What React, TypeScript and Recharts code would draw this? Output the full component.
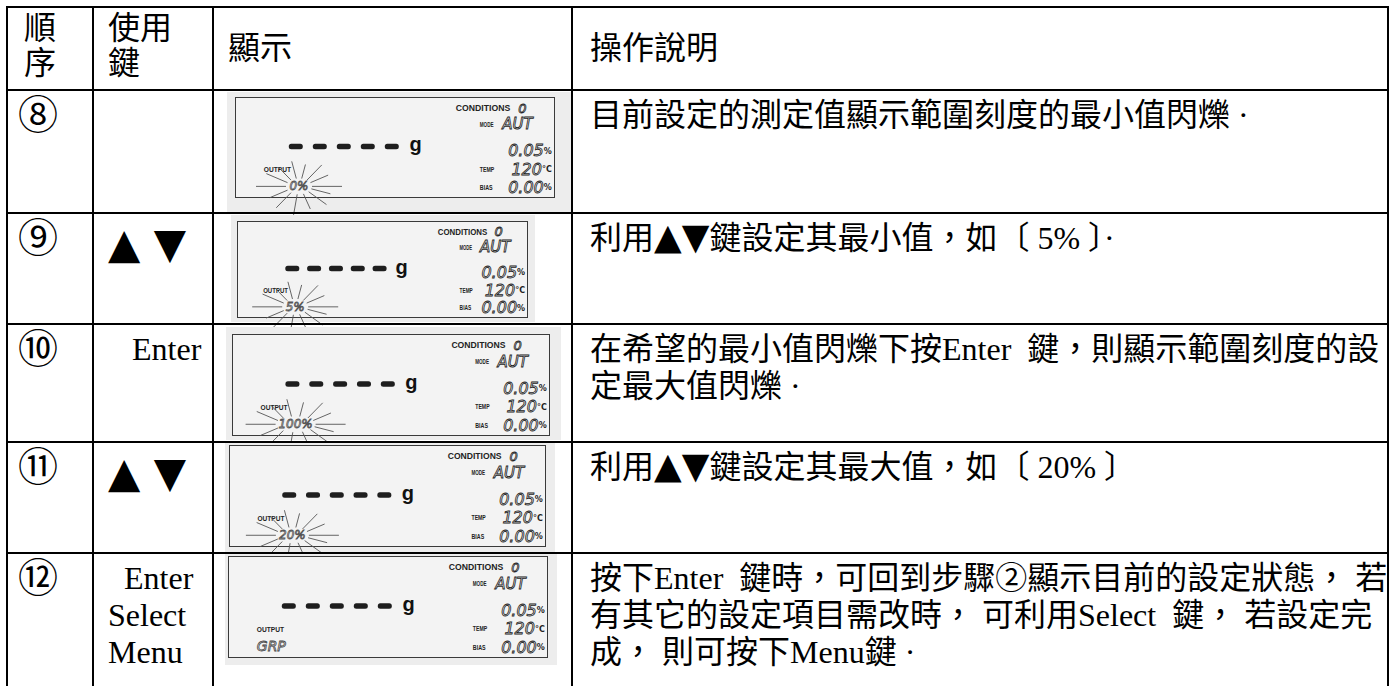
import React from "react"
import { ScatterChart, Scatter, XAxis, YAxis, Customized } from "recharts"

// table text
const headerCells = [["順", "序"], ["使用", "鍵"], ["顯示"], ["操作說明"]]
const stepNumbers = ["⑧", "⑨", "⑩", "⑪", "⑫"]
const keyLabels = [[""], ["▲ ▼"], ["   Enter"], ["▲ ▼"], ["  Enter", "Select", "Menu"]]
const descriptions = [
    ["目前設定的測定值顯示範圍刻度的最小值閃爍 ·"],
    ["利用▲▼鍵設定其最小值，如〔 5% 〕·"],
    ["在希望的最小值閃爍下按Enter  鍵，則顯示範圍刻度的設", "定最大值閃爍 ·"],
    ["利用▲▼鍵設定其最大值，如〔 20% 〕"],
    [
        "按下Enter  鍵時，可回到步驟②顯示目前的設定狀態， 若",
        "有其它的設定項目需改時， 可利用Select  鍵， 若設定完",
        "成， 則可按下Menu鍵 ·",
    ],
]

// LCD readings shown in each row
const mainDigits = ["-", "-", "-", "-", "-"]
const outputValues = ["0%", "5%", "100%", "20%", "GRP"]
const outputBlinking = [true, true, true, true, false]
const conditionNo = "0"
const modeValue = "AUT"
const modeRate = "0.05"
const tempValue = "120"
const biasValue = "0.00"

// layout
const colX = [7, 93, 213, 572, 1388]
const rowY = [7, 90, 213, 324, 442, 553, 760]
const keyX = 108
const lcdFrames = [
    { x: 227, y: 92, w: 344, h: 121, bx: 8, by: 5, bw: 320, bh: 101 },
    { x: 231, y: 215, w: 304, h: 107, bx: 6, by: 6, bw: 291, bh: 97 },
    { x: 226, y: 327, w: 335, h: 113, bx: 6, by: 7, bw: 318, bh: 102 },
    { x: 225, y: 443, w: 330, h: 109, bx: 4, by: 2, bw: 317, bh: 102 },
    { x: 225, y: 553, w: 332, h: 112, bx: 3, by: 3, bw: 320, bh: 102 },
]
// blink rays: [angle deg, length]
const rays = [
    [0, 30], [28, 20], [52, 24], [78, 18], [102, 22], [128, 20], [152, 24],
    [180, 30], [208, 20], [232, 24], [262, 26], [290, 20], [318, 24], [342, 20],
]

const textFont = "'Liberation Serif', 'Noto Sans CJK TC', serif"
const triFont = "'DejaVu Sans', sans-serif"
const segStyle = {
    fontFamily: "'DejaVu Sans', sans-serif",
    fontStyle: "italic" as const,
    fill: "none",
    stroke: "#222",
    strokeWidth: 0.8,
}
const labelStyle = {
    fontFamily: "'Liberation Sans', Arial, sans-serif",
    fontWeight: 700,
    fill: "#222",
}

// the ▲▼ marks are drawn larger, as in the printed sheet
function withTriangles(line: string, size: number) {
    const parts = line.split(/([▲▼])/)
    return parts.map((p, i) =>
        p === "▲" || p === "▼" ? (
            <span key={i} style={{ fontFamily: triFont, fontSize: size, lineHeight: 0 }}>
                {p}
            </span>
        ) : (
            <React.Fragment key={i}>{p}</React.Fragment>
        )
    )
}

function Lines({ x, y, lines, lh = 37, size = 32 }: { x: number; y: number; lines: string[]; lh?: number; size?: number }) {
    return (
        <div
            style={{
                position: "absolute",
                left: x,
                top: y,
                fontSize: size,
                lineHeight: lh + "px",
                whiteSpace: "pre",
            }}
        >
            {lines.map((l, i) => (
                <div key={i}>{l ? withTriangles(l, 36) : "\u00a0"}</div>
            ))}
        </div>
    )
}

function LcdOverlay({ row }: { row: number }) {
    const f = lcdFrames[row]
    const px = (v: number) => f.bx + v * f.bw
    const py = (v: number) => f.by + v * f.bh
    const out = outputValues[row]
    const blink = outputBlinking[row]
    const cx = px(0.2)
    const cy = py(0.885)
    const rx = 6 + out.length * 3.5
    const ry = 8
    return (
        <g>
            <text x={px(0.69)} y={py(0.11)} dominantBaseline="central" fontSize={9} textLength={f.bw * 0.17} lengthAdjust="spacingAndGlyphs" {...labelStyle}>
                CONDITIONS
            </text>
            <text x={px(0.885)} y={py(0.11)} dominantBaseline="central" fontSize={13} {...segStyle}>
                {conditionNo}
            </text>
            <text x={px(0.765)} y={py(0.27)} dominantBaseline="central" fontSize={7} textLength={f.bw * 0.043} lengthAdjust="spacingAndGlyphs" {...labelStyle}>
                MODE
            </text>
            <text x={px(0.835)} y={py(0.27)} dominantBaseline="central" fontSize={15} {...segStyle}>
                {modeValue}
            </text>
            <text x={px(0.545)} y={py(0.47)} dominantBaseline="central" fontSize={20} {...labelStyle} fill="#111">
                g
            </text>
            <text x={px(0.99)} y={py(0.53)} dominantBaseline="central" textAnchor="end" fontSize={16} {...segStyle}>
                {modeRate}
                <tspan fontSize={8} fontStyle="normal" fill="#222" stroke="none" fontWeight={700}>%</tspan>
            </text>
            <text x={px(0.765)} y={py(0.715)} dominantBaseline="central" fontSize={7} textLength={f.bw * 0.045} lengthAdjust="spacingAndGlyphs" {...labelStyle}>
                TEMP
            </text>
            <text x={px(0.99)} y={py(0.715)} dominantBaseline="central" textAnchor="end" fontSize={16} {...segStyle}>
                {tempValue}
                <tspan fontSize={8} fontStyle="normal" fill="#222" stroke="none" fontWeight={700}>°C</tspan>
            </text>
            <text x={px(0.765)} y={py(0.895)} dominantBaseline="central" fontSize={7} textLength={f.bw * 0.04} lengthAdjust="spacingAndGlyphs" {...labelStyle}>
                BIAS
            </text>
            <text x={px(0.99)} y={py(0.895)} dominantBaseline="central" textAnchor="end" fontSize={16} {...segStyle}>
                {biasValue}
                <tspan fontSize={8} fontStyle="normal" fill="#222" stroke="none" fontWeight={700}>%</tspan>
            </text>
            <text x={px(0.09)} y={py(0.72)} dominantBaseline="central" fontSize={7} textLength={f.bw * 0.085} lengthAdjust="spacingAndGlyphs" {...labelStyle}>
                OUTPUT
            </text>
            {blink ? (
                <g>
                    {rays.map(([a, r], i) => {
                        const t = (a * Math.PI) / 180
                        const c = Math.cos(t)
                        const s = Math.sin(t)
                        return (
                            <line
                                key={i}
                                x1={cx + c * rx}
                                y1={cy - s * ry}
                                x2={cx + c * (rx + r)}
                                y2={cy - s * (ry + r * 0.8)}
                                stroke="#555"
                                strokeWidth={0.9}
                            />
                        )
                    })}
                    <text x={cx} y={cy} dominantBaseline="central" textAnchor="middle" fontSize={12} {...segStyle} stroke="#555">
                        {out}
                    </text>
                </g>
            ) : (
                <text x={px(0.09)} y={py(0.88)} dominantBaseline="central" fontSize={14} {...segStyle} stroke="#444">
                    {out}
                </text>
            )}
        </g>
    )
}

function Lcd({ row }: { row: number }) {
    const f = lcdFrames[row]
    const dashData = mainDigits.map((d, i) => ({ slot: i, level: 0, digit: d }))
    // place the five digit slots inside the panel through the axis domains
    const first = f.bx + 0.19 * f.bw
    const last = f.bx + 0.49 * f.bw
    const span = ((mainDigits.length - 1) * f.w) / (last - first)
    const d0 = (-first * span) / f.w
    const yFrac = (f.by + 0.49 * f.bh) / f.h
    const hi = yFrac / (1 - yFrac)
    return (
        <div style={{ position: "absolute", left: f.x, top: f.y, width: f.w, height: f.h, background: "#ededed" }}>
            <div
                style={{
                    position: "absolute",
                    left: f.bx,
                    top: f.by,
                    width: f.bw,
                    height: f.bh,
                    boxSizing: "border-box",
                    border: "1.5px solid #3a3a3a",
                    background: "#f3f3f3",
                }}
            />
            <div style={{ position: "absolute", left: 0, top: 0 }}>
                <ScatterChart width={f.w} height={f.h} margin={{ top: 0, right: 0, bottom: 0, left: 0 }}>
                    <XAxis type="number" dataKey="slot" hide domain={[d0, d0 + span]} allowDataOverflow />
                    <YAxis type="number" dataKey="level" hide domain={[-1, hi]} allowDataOverflow />
                    <Scatter
                        data={dashData}
                        isAnimationActive={false}
                        shape={(p: any) => (
                            <rect x={p.cx - 7} y={p.cy - 2.75} width={14} height={5.5} rx={2.5} fill="#1e1e1e" />
                        )}
                    />
                    <Customized component={<LcdOverlay row={row} />} />
                </ScatterChart>
            </div>
        </div>
    )
}

export default function App() {
    const top = rowY[0]
    const bottom = rowY[rowY.length - 1]
    return (
        <div
            style={{
                position: "absolute",
                left: 0,
                top: 0,
                width: 1391,
                height: 686,
                overflow: "hidden",
                background: "#fff",
                color: "#000",
                fontFamily: textFont,
            }}
        >
            <style>{".recharts-surface{overflow:visible}"}</style>

            {stepNumbers.map((_, i) => (
                <Lcd key={"lcd" + i} row={i} />
            ))}

            {colX.map((x) => (
                <div key={"v" + x} style={{ position: "absolute", left: x - 1, top: top - 1, width: 2, height: bottom - top, background: "#000" }} />
            ))}
            {rowY.slice(0, -1).map((y) => (
                <div key={"h" + y} style={{ position: "absolute", left: colX[0] - 1, top: y - 1, width: colX[4] - colX[0] + 2, height: 2, background: "#000" }} />
            ))}

            <Lines x={24} y={11} lines={headerCells[0]} lh={35} />
            <Lines x={keyX} y={11} lines={headerCells[1]} lh={35} />
            <Lines x={228} y={31} lines={headerCells[2]} lh={35} />
            <Lines x={590} y={31} lines={headerCells[3]} lh={35} />

            {stepNumbers.map((n, i) => {
                const isTri = keyLabels[i][0].includes("▲")
                return (
                    <React.Fragment key={"row" + i}>
                        <Lines x={18} y={rowY[i + 1] + 6} lines={[n]} size={40} lh={40} />
                        {isTri ? (
                            <div
                                style={{
                                    position: "absolute",
                                    left: keyX,
                                    top: rowY[i + 1] + 10,
                                    fontFamily: triFont,
                                    fontSize: 42,
                                    lineHeight: "42px",
                                    whiteSpace: "pre",
                                }}
                            >
                                {keyLabels[i][0]}
                            </div>
                        ) : (
                            <Lines x={keyX} y={rowY[i + 1] + 7} lines={keyLabels[i]} />
                        )}
                        <Lines x={590} y={rowY[i + 1] + 7} lines={descriptions[i]} />
                    </React.Fragment>
                )
            })}
        </div>
    )
}
